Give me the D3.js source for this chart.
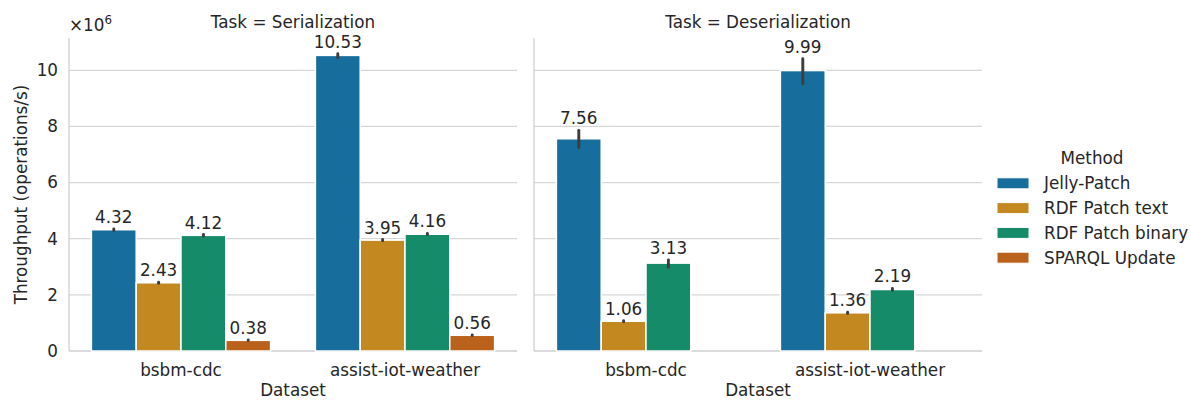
<!DOCTYPE html>
<html>
<head>
<meta charset="utf-8">
<script src="https://cdn.jsdelivr.net/npm/d3@7"></script>
<style>
  body { margin: 0; background: #fff; }
  svg text { font-family: "DejaVu Sans", sans-serif; fill: #262626; }
</style>
</head>
<body>
<svg id="chart" width="1190" height="400"></svg>
<script>
// data (throughput in millions of operations/s)
const tasks = ["Serialization", "Deserialization"];
const datasets = ["bsbm-cdc", "assist-iot-weather"];
const methods = ["Jelly-Patch", "RDF Patch text", "RDF Patch binary", "SPARQL Update"];
const colors = ["#176d9c", "#c38820", "#168b6a", "#ba611b"];

// values[task][dataset][method]
const serMean = [[4.32, 2.43, 4.12, 0.38], [10.53, 3.95, 4.16, 0.56]];
const serLow  = [[4.29, 2.41, 4.09, 0.37], [10.45, 3.93, 4.14, 0.55]];
const serHigh = [[4.35, 2.45, 4.15, 0.39], [10.59, 3.97, 4.19, 0.57]];
const desMean = [[7.56, 1.06, 3.13, null], [9.99, 1.36, 2.19, null]];
const desLow  = [[7.25, 1.04, 2.98, null], [9.52, 1.34, 2.16, null]];
const desHigh = [[7.86, 1.08, 3.24, null], [10.41, 1.38, 2.23, null]];
const yTicks = [0, 2, 4, 6, 8, 10];

const means = [serMean, desMean], lows = [serLow, desLow], highs = [serHigh, desHigh];

const svg = d3.select("#chart");
const plotTop = 38, plotBottom = 351;
const panels = [{x0: 69, x1: 517}, {x0: 534, x1: 982}];
const fs = 16.8;

const y = d3.scaleLinear().domain([0, 11.15]).range([plotBottom, plotTop]);

panels.forEach((p, ti) => {
    const g = svg.append("g");
    const x = d3.scaleBand().domain(datasets).range([p.x0, p.x1]).paddingInner(0.2).paddingOuter(0.1);
    const xm = d3.scaleBand().domain(methods).range([0, x.bandwidth()]);

    // grid
    g.selectAll("line.grid").data(yTicks).enter().append("line")
        .attr("x1", p.x0).attr("x2", p.x1)
        .attr("y1", d => y(d)).attr("y2", d => y(d))
        .attr("stroke", "#d6d6d6").attr("stroke-width", 1.2);

    // spines
    g.append("line").attr("x1", p.x0).attr("x2", p.x0).attr("y1", plotTop).attr("y2", plotBottom)
        .attr("stroke", "#cccccc").attr("stroke-width", 1.2);
    g.append("line").attr("x1", p.x0).attr("x2", p.x1).attr("y1", plotBottom).attr("y2", plotBottom)
        .attr("stroke", "#cccccc").attr("stroke-width", 1.2);

    const rows = [];
    datasets.forEach((ds, di) => methods.forEach((m, mi) => {
        const v = means[ti][di][mi];
        if (v == null) return;
        rows.push({ds, m, mi, v, lo: lows[ti][di][mi], hi: highs[ti][di][mi]});
    }));

    g.selectAll("rect.bar").data(rows).enter().append("rect")
        .attr("x", d => x(d.ds) + xm(d.m))
        .attr("width", xm.bandwidth())
        .attr("y", d => y(d.v))
        .attr("height", d => y(0) - y(d.v))
        .attr("fill", d => colors[d.mi])
        .attr("stroke", "#ffffff").attr("stroke-width", 1.5);

    g.selectAll("line.err").data(rows).enter().append("line")
        .attr("x1", d => x(d.ds) + xm(d.m) + xm.bandwidth() / 2)
        .attr("x2", d => x(d.ds) + xm(d.m) + xm.bandwidth() / 2)
        .attr("y1", d => y(d.lo)).attr("y2", d => y(d.hi))
        .attr("stroke", "#3d3d3d").attr("stroke-width", 2.9).attr("stroke-linecap", "round");

    g.selectAll("text.val").data(rows).enter().append("text")
        .attr("x", d => x(d.ds) + xm(d.m) + xm.bandwidth() / 2)
        .attr("y", d => y(d.hi) - 6)
        .attr("text-anchor", "middle").attr("font-size", fs)
        .text(d => d.v.toFixed(2));

    // x tick labels
    g.selectAll("text.xt").data(datasets).enter().append("text")
        .attr("x", d => x(d) + x.bandwidth() / 2).attr("y", 376)
        .attr("text-anchor", "middle").attr("font-size", fs).text(d => d);

    g.append("text").attr("x", (p.x0 + p.x1) / 2).attr("y", 396)
        .attr("text-anchor", "middle").attr("font-size", fs).text("Dataset");

    g.append("text").attr("x", (p.x0 + p.x1) / 2).attr("y", 28)
        .attr("text-anchor", "middle").attr("font-size", fs).text("Task = " + tasks[ti]);

    if (ti === 0) {
        g.selectAll("text.yt").data(yTicks).enter().append("text")
            .attr("x", 58).attr("y", d => y(d)).attr("dy", "0.35em")
            .attr("text-anchor", "end").attr("font-size", fs).text(d => d);
        const m = g.append("text").attr("x", 69).attr("y", 31).attr("font-size", fs);
        m.append("tspan").text("×10");
        m.append("tspan").attr("font-size", 11.8).attr("dy", -7).text("6");
        g.append("text").attr("transform", `translate(27,${(plotTop + plotBottom) / 2}) rotate(-90)`)
            .attr("text-anchor", "middle").attr("font-size", fs).text("Throughput (operations/s)");
    }
});

// legend
const lg = svg.append("g");
lg.append("text").attr("x", 1092).attr("y", 164).attr("text-anchor", "middle")
    .attr("font-size", fs).text("Method");
const li = lg.selectAll("g.item").data(methods).enter().append("g")
    .attr("transform", (d, i) => `translate(997,${183.3 + i * 24.8})`);
li.append("rect").attr("x", 0).attr("y", -5.5).attr("width", 32).attr("height", 11)
    .attr("fill", (d, i) => colors[i]).attr("stroke", "#ffffff").attr("stroke-width", 1);
li.append("text").attr("x", 47).attr("y", 0).attr("dy", "0.35em")
    .attr("font-size", fs).text(d => d);
</script>
</body>
</html>
